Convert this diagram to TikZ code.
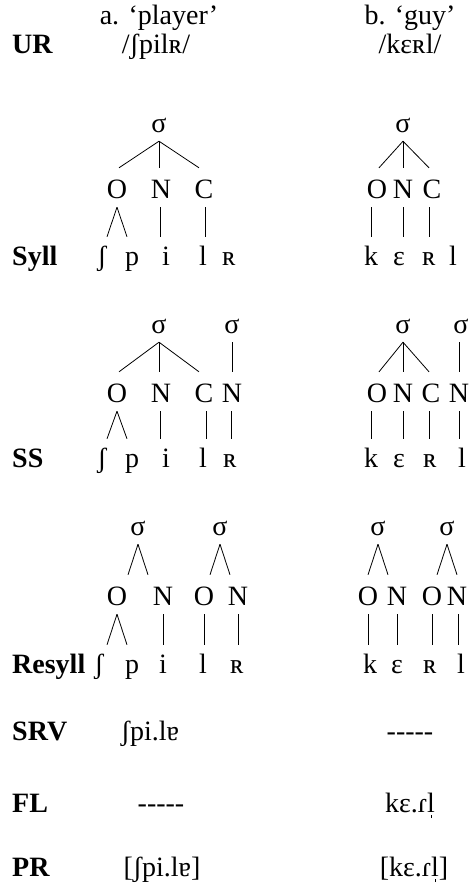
\documentclass[tikz,border=0pt]{standalone}
\usepackage{fontspec}
\setmainfont{Liberation Serif}
\newcommand\sylmark[1]{\ooalign{#1\cr\hidewidth\rule[-6pt]{0.9pt}{3.5pt}\hidewidth\cr}}
\begin{document}
\begin{tikzpicture}[x=1pt,y=-1pt,
  txt/.style={font=\fontsize{28}{31}\selectfont, inner sep=0pt, anchor=base},
  lab/.style={font=\fontsize{28}{31}\selectfont\bfseries, inner sep=0pt, anchor=base west},
  sig/.style={txt, text depth=9pt},
  cat/.style={txt, text height=30pt, text depth=9pt},
  seg/.style={txt, text height=28pt},
  br/.style={line width=0.8pt}]
\useasboundingbox (0,0) rectangle (471,883);
% header
\node[txt] (ha) at (159,25) {a. ‘player’};
\node[txt] (hb) at (410,25) {b. ‘guy’};
\node[lab] (lUR) at (12,54) {UR};
\node[txt] (ura) at (156,54) {/ʃpilʀ/};
\node[txt] (urb) at (410,54) {/kɛʀl/};
% labels
\node[lab] (lSyll) at (12,265) {Syll};
\node[lab] (lSS) at (12,467) {SS};
\node[lab] (lRes) at (12,673) {Resyll};
\node[lab] (lSRV) at (12,740) {SRV};
\node[lab] (lFL) at (12,812) {FL};
\node[lab] (lPR) at (12,876) {PR};
% ---------- Syll a
\node[sig] (a1s) at (159,132) {σ};
\node[cat] (a1O) at (117,198) {O};
\node[cat] (a1N) at (161,198) {N};
\node[cat] (a1C) at (204,198) {C};
\node[seg] (a1sh) at (102,265) {ʃ};
\node[seg] (a1p) at (132,265) {p};
\node[seg] (a1i) at (166,265) {i};
\node[seg] (a1l) at (203,265) {l};
\node[seg] (a1R) at (229,265) {ʀ};
\draw[br] (a1s.south) -- ([xshift=-40pt]a1s.south |- a1O.north);
\draw[br] (a1s.south) -- (a1s.south |- a1N.north);
\draw[br] (a1s.south) -- ([xshift=40pt]a1s.south |- a1C.north);
\draw[br] (a1O.south) -- ([xshift=-10pt]a1O.south |- a1sh.north);
\draw[br] (a1O.south) -- ([xshift=10pt]a1O.south |- a1p.north);
\draw[br] ([xshift=-1pt]a1N.south) -- ([xshift=-1pt]a1N.south |- a1i.north);
\draw[br] ([xshift=1pt]a1C.south) -- ([xshift=1pt]a1C.south |- a1l.north);
% ---------- Syll b
\node[sig] (b1s) at (403,132) {σ};
\node[cat] (b1O) at (377,198) {O};
\node[cat] (b1N) at (403,198) {N};
\node[cat] (b1C) at (432,198) {C};
\node[seg] (b1k) at (371,265) {k};
\node[seg] (b1e) at (399,265) {ɛ};
\node[seg] (b1R) at (429,265) {ʀ};
\node[seg] (b1l) at (453,265) {l};
\draw[br] (b1s.south) -- ([xshift=-24pt]b1s.south |- b1O.north);
\draw[br] (b1s.south) -- (b1s.south |- b1N.north);
\draw[br] (b1s.south) -- ([xshift=26pt]b1s.south |- b1C.north);
\draw[br] (b1k.north) -- (b1k.north |- b1O.south);
\draw[br] (b1N.south) -- (b1N.south |- b1e.north);
\draw[br] (b1R.north) -- (b1R.north |- b1C.south);
% ---------- SS a
\node[sig] (a2s1) at (159,333) {σ};
\node[sig] (a2s2) at (232,333) {σ};
\node[cat] (a2O) at (117,402) {O};
\node[cat] (a2N) at (161,402) {N};
\node[cat] (a2C) at (204,402) {C};
\node[cat] (a2N2) at (232,402) {N};
\node[seg] (a2sh) at (102,467) {ʃ};
\node[seg] (a2p) at (132,467) {p};
\node[seg] (a2i) at (166,467) {i};
\node[seg] (a2l) at (203,467) {l};
\node[seg] (a2R) at (230,467) {ʀ};
\draw[br] (a2s1.south) -- ([xshift=-40pt]a2s1.south |- a2O.north);
\draw[br] (a2s1.south) -- (a2s1.south |- a2N.north);
\draw[br] (a2s1.south) -- ([xshift=40pt]a2s1.south |- a2C.north);
\draw[br] (a2s2.south) -- (a2s2.south |- a2N2.north);
\draw[br] (a2O.south) -- ([xshift=-10pt]a2O.south |- a2sh.north);
\draw[br] (a2O.south) -- ([xshift=10pt]a2O.south |- a2p.north);
\draw[br] ([xshift=-1pt]a2N.south) -- ([xshift=-1pt]a2N.south |- a2i.north);
\draw[br] ([xshift=2pt]a2C.south) -- ([xshift=2pt]a2C.south |- a2l.north);
\draw[br] ([xshift=-1pt]a2N2.south) -- ([xshift=-1pt]a2N2.south |- a2R.north);
% ---------- SS b
\node[sig] (b2s1) at (403,333) {σ};
\node[sig] (b2s2) at (461,333) {σ};
\node[cat] (b2O) at (377,402) {O};
\node[cat] (b2N) at (403,402) {N};
\node[cat] (b2C) at (431,402) {C};
\node[cat] (b2N2) at (459,402) {N};
\node[seg] (b2k) at (371,467) {k};
\node[seg] (b2e) at (399,467) {ɛ};
\node[seg] (b2R) at (430,467) {ʀ};
\node[seg] (b2l) at (462,467) {l};
\draw[br] (b2s1.south) -- ([xshift=-24pt]b2s1.south |- b2O.north);
\draw[br] (b2s1.south) -- (b2s1.south |- b2N.north);
\draw[br] (b2s1.south) -- ([xshift=26pt]b2s1.south |- b2C.north);
\draw[br] (b2N2.north) -- (b2N2.north |- b2s2.south);
\draw[br] (b2k.north) -- (b2k.north |- b2O.south);
\draw[br] (b2N.south) -- (b2N.south |- b2e.north);
\draw[br] ([xshift=-2pt]b2C.south) -- ([xshift=-2pt]b2C.south |- b2R.north);
\draw[br] (b2N2.south) -- (b2N2.south |- b2l.north);
% ---------- Resyll a
\node[sig] (a3s1) at (138,535) {σ};
\node[sig] (a3s2) at (220,535) {σ};
\node[cat] (a3O) at (117,605) {O};
\node[cat] (a3N) at (163,605) {N};
\node[cat] (a3O2) at (204,605) {O};
\node[cat] (a3N2) at (238,605) {N};
\node[seg] (a3sh) at (99,673) {ʃ};
\node[seg] (a3p) at (132,673) {p};
\node[seg] (a3i) at (163,673) {i};
\node[seg] (a3l) at (203,673) {l};
\node[seg] (a3R) at (237,673) {ʀ};
\draw[br] (a3s1.south) -- ([xshift=-10pt]a3s1.south |- a3O.north);
\draw[br] (a3s1.south) -- ([xshift=10pt]a3s1.south |- a3N.north);
\draw[br] (a3s2.south) -- ([xshift=-10pt]a3s2.south |- a3O2.north);
\draw[br] (a3s2.south) -- ([xshift=10pt]a3s2.south |- a3N2.north);
\draw[br] (a3O.south) -- ([xshift=-10pt]a3O.south |- a3sh.north);
\draw[br] (a3O.south) -- ([xshift=10pt]a3O.south |- a3p.north);
\draw[br] (a3N.south) -- (a3N.south |- a3i.north);
\draw[br] (a3O2.south) -- (a3O2.south |- a3l.north);
\draw[br] (a3N2.south) -- (a3N2.south |- a3R.north);
% ---------- Resyll b
\node[sig] (b3s1) at (378,535) {σ};
\node[sig] (b3s2) at (447,535) {σ};
\node[cat] (b3O) at (368,605) {O};
\node[cat] (b3N) at (397,605) {N};
\node[cat] (b3O2) at (432,605) {O};
\node[cat] (b3N2) at (457,605) {N};
\node[seg] (b3k) at (370,673) {k};
\node[seg] (b3e) at (397,673) {ɛ};
\node[seg] (b3R) at (430,673) {ʀ};
\node[seg] (b3l) at (461,673) {l};
\draw[br] (b3s1.south) -- ([xshift=-10pt]b3s1.south |- b3O.north);
\draw[br] (b3s1.south) -- ([xshift=10pt]b3s1.south |- b3N.north);
\draw[br] (b3s2.south) -- ([xshift=-10pt]b3s2.south |- b3O2.north);
\draw[br] (b3s2.south) -- ([xshift=10pt]b3s2.south |- b3N2.north);
\draw[br] (b3O.south) -- (b3O.south |- b3k.north);
\draw[br] (b3N.south) -- (b3N.south |- b3e.north);
\draw[br] (b3O2.south) -- (b3O2.south |- b3R.north);
\draw[br] ([xshift=1pt]b3N2.south) -- ([xshift=1pt]b3N2.south |- b3l.north);
% ---------- surface rows
\node[txt] (srva) at (150,740) {ʃpi.lɐ};
\node[txt] (srvb) at (410,740) {-{}-{}-{}-{}-};
\node[txt] (fla) at (161,812) {-{}-{}-{}-{}-};
\node[txt] (flb) at (410,812) {kɛ.ɾ\sylmark{l}};
\node[txt] (pra) at (162,876) {[ʃpi.lɐ]};
\node[txt] (prb) at (414,876) {[kɛ.ɾ\sylmark{l}]};
\end{tikzpicture}
\end{document}
